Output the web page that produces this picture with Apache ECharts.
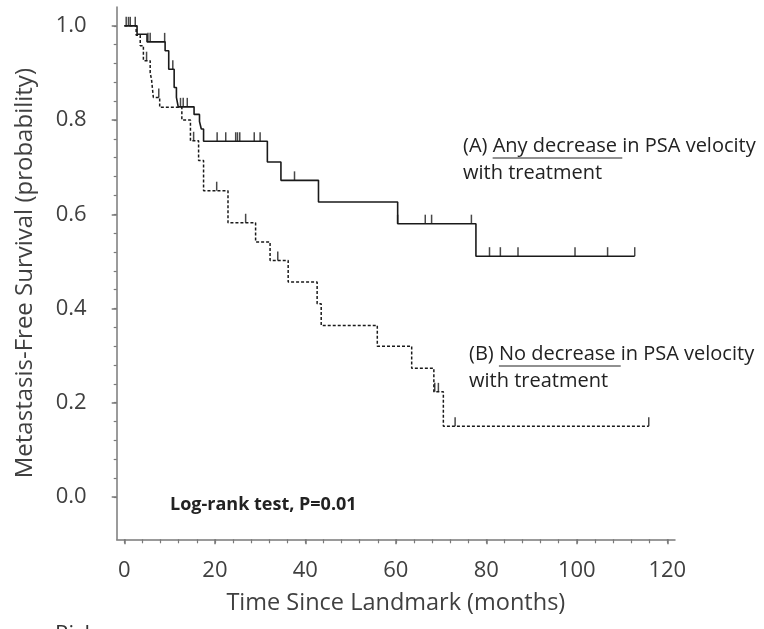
<!DOCTYPE html>
<html>
<head>
<meta charset="utf-8">
<script src="https://cdn.jsdelivr.net/npm/echarts@6/dist/echarts.min.js"></script>
<style>
  html, body { margin: 0; padding: 0; background: #fff; }
  #chart { width: 764px; height: 629px; }
</style>
</head>
<body>
<div id="chart"></div>
<script>
// (A) any decrease in PSA velocity - solid curve, event times and survival after each step
const timesA = [0, 2.8, 5.0, 9.0, 9.8, 11.0, 11.5, 11.9, 15.4, 16.6, 17.0, 17.5, 31.6, 34.6, 42.9, 60.4, 77.7, 112.8];
const survA  = [1.0, 0.982, 0.966, 0.947, 0.908, 0.869, 0.848, 0.828, 0.812, 0.797, 0.781, 0.755, 0.711, 0.672, 0.626, 0.580, 0.511, 0.511];
const censorA = [0.4, 0.9, 1.3, 2.4, 5.2, 5.7, 8.9, 10.7, 12.4, 13.0, 13.9, 20.5, 22.4, 24.6, 25.0, 25.5, 28.7, 30.0, 37.6, 60.4, 66.5, 67.9, 76.7, 80.7, 83.1, 87.0, 99.6, 106.8, 112.8];

// (B) no decrease in PSA velocity - dashed curve
const timesB = [0, 2.6, 3.5, 4.2, 5.7, 6.0, 6.4, 7.8, 12.7, 14.6, 16.4, 17.5, 22.9, 29.0, 32.2, 36.2, 42.6, 43.5, 55.9, 63.5, 68.4, 70.5, 115.9];
const survB  = [1.0, 0.98, 0.958, 0.926, 0.90, 0.886, 0.848, 0.827, 0.80, 0.756, 0.714, 0.65, 0.582, 0.541, 0.502, 0.456, 0.41, 0.364, 0.32, 0.273, 0.223, 0.15, 0.15];
const censorB = [4.9, 7.6, 15.3, 20.4, 26.8, 33.9, 68.6, 69.4, 73.1, 115.9];

const xTicks = [0, 20, 40, 60, 80, 100, 120];
const yTicks = [0.0, 0.2, 0.4, 0.6, 0.8, 1.0];

const FONT = '"Open Sans"';
const AXIS_COLOR = '#7a7a7a';
const TEXT_COLOR = '#404040';

function survAt(times, surv, t) {
  let s = surv[0];
  for (let i = 0; i < times.length; i++) {
    if (times[i] <= t) s = surv[i];
  }
  return s;
}

function pairs(times, surv) {
  return times.map((t, i) => [t, surv[i]]);
}

const xMinor = [];
for (let t = 0; t <= 120; t += 4) xMinor.push(t);
const yMinor = [];
for (let i = 0; i <= 25; i++) yMinor.push(+(i * 0.04).toFixed(2));

// text widths for the underlines
const ctx = document.createElement('canvas').getContext('2d');
function textWidth(str, font) {
  ctx.font = font;
  return ctx.measureText(str).width;
}

const annFont = '20px ' + FONT;
const ax = 463, bx = 469;
const wA0 = textWidth('(A) ', annFont), wA1 = textWidth('Any decrease ', annFont);
const wB0 = textWidth('(B) ', annFont), wB1 = textWidth('No decrease ', annFont);

const chart = echarts.init(document.getElementById('chart'));

const option = {
  backgroundColor: '#fff',
  animation: false,
  grid: { left: 116.7, right: 89, top: 7, bottom: 89.7 },
  xAxis: [
    {
      type: 'value', min: -1.7, max: 121.7,
      axisLine: { show: true, onZero: false, lineStyle: { color: AXIS_COLOR, width: 1.5 } },
      axisTick: { show: true, customValues: xTicks, length: 5, lineStyle: { color: AXIS_COLOR, width: 1.5 } },
      axisLabel: { customValues: xTicks, margin: 20, fontSize: 22, color: TEXT_COLOR, fontFamily: FONT },
      splitLine: { show: false },
      name: 'Time Since Landmark (months)',
      nameLocation: 'middle', nameGap: 52,
      nameTextStyle: { fontSize: 23.5, color: TEXT_COLOR, fontFamily: FONT }
    },
    {
      type: 'value', min: -1.7, max: 121.7, position: 'bottom',
      axisLine: { show: false, onZero: false },
      axisTick: { show: true, customValues: xMinor, length: 4, lineStyle: { color: AXIS_COLOR, width: 1.2 } },
      axisLabel: { show: false },
      splitLine: { show: false }
    }
  ],
  yAxis: [
    {
      type: 'value', min: -0.09, max: 1.04,
      axisLine: { show: true, onZero: false, lineStyle: { color: AXIS_COLOR, width: 1.5 } },
      axisTick: { show: true, customValues: yTicks, length: 5, lineStyle: { color: AXIS_COLOR, width: 1.5 } },
      axisLabel: { customValues: yTicks, margin: 30, fontSize: 22, color: TEXT_COLOR, fontFamily: FONT,
        formatter: v => v.toFixed(1) },
      splitLine: { show: false },
      name: 'Metastasis-Free Survival (probability)',
      nameLocation: 'middle', nameGap: 80,
      nameTextStyle: { fontSize: 24, color: TEXT_COLOR, fontFamily: FONT }
    },
    {
      type: 'value', min: -0.09, max: 1.04, position: 'left',
      axisLine: { show: false, onZero: false },
      axisTick: { show: true, customValues: yMinor, length: 3, lineStyle: { color: AXIS_COLOR, width: 1.2 } },
      axisLabel: { show: false },
      splitLine: { show: false }
    }
  ],
  series: [
    {
      type: 'line', name: 'A', step: 'end', showSymbol: false, symbol: 'none',
      data: pairs(timesA, survA),
      lineStyle: { color: '#1a1a1a', width: 1.6 }
    },
    {
      type: 'line', name: 'B', step: 'end', showSymbol: false, symbol: 'none',
      data: pairs(timesB, survB),
      lineStyle: { color: '#1a1a1a', width: 1.5, type: [3, 2] }
    },
    {
      type: 'scatter', name: 'censor A', symbol: 'rect', symbolSize: [1.5, 9], symbolOffset: [0, '-50%'],
      data: censorA.map(t => [t, survAt(timesA, survA, t)]),
      itemStyle: { color: '#1a1a1a' }
    },
    {
      type: 'scatter', name: 'censor B', symbol: 'rect', symbolSize: [1.5, 9], symbolOffset: [0, '-50%'],
      data: censorB.map(t => [t, survAt(timesB, survB, t)]),
      itemStyle: { color: '#1a1a1a' }
    }
  ],
  graphic: [
    { type: 'text', x: ax, y: 146, style: { text: '(A) Any decrease in PSA velocity', font: annFont, fill: '#222', verticalAlign: 'middle' } },
    { type: 'text', x: ax, y: 173, style: { text: 'with treatment', font: annFont, fill: '#222', verticalAlign: 'middle' } },
    { type: 'line', shape: { x1: ax + wA0, y1: 158, x2: ax + wA0 + wA1, y2: 158 }, style: { stroke: '#222', lineWidth: 1.2 } },
    { type: 'text', x: bx, y: 354, style: { text: '(B) No decrease in PSA velocity', font: annFont, fill: '#222', verticalAlign: 'middle' } },
    { type: 'text', x: bx, y: 381, style: { text: 'with treatment', font: annFont, fill: '#222', verticalAlign: 'middle' } },
    { type: 'line', shape: { x1: bx + wB0, y1: 366, x2: bx + wB0 + wB1, y2: 366 }, style: { stroke: '#222', lineWidth: 1.2 } },
    { type: 'text', x: 170, y: 505, style: { text: 'Log-rank test, P=0.01', font: 'bold 18px ' + FONT, fill: '#222', verticalAlign: 'middle' } },
    { type: 'text', x: 55, y: 624, style: { text: 'Risk', font: '22px ' + FONT, fill: '#333', verticalAlign: 'top' } }
  ]
};

chart.setOption(option);
</script>
</body>
</html>
